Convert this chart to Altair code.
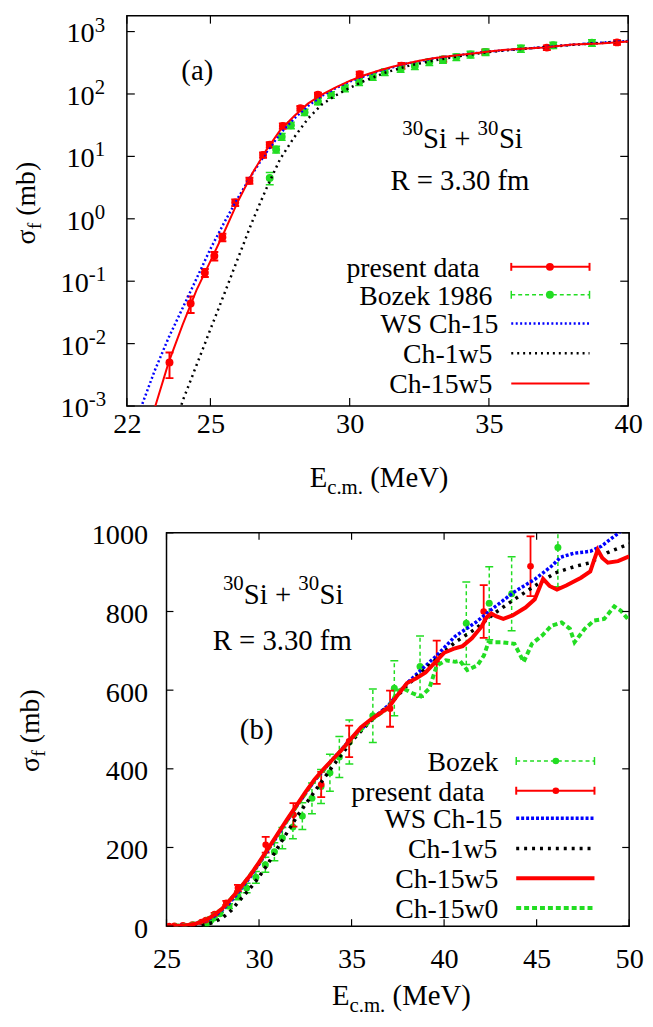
import altair as alt
import pandas as pd

FONT = "Liberation Serif, Times New Roman, Times, serif"
RED = "#ff0000"
GREEN = "#22dd22"
BLUE = "#0000ff"
BLACK = "#000000"

# ---------------- data ----------------
pres_E = [23.53, 24.29, 24.80, 25.14, 25.43, 25.89, 26.40, 26.89, 27.13, 27.60,
          28.23, 28.86, 30.36, 31.86, 33.36, 34.87, 37.08, 39.60, 42.14, 44.67]
pres_sig = [0.005, 0.044, 0.137, 0.254, 0.506, 1.82, 4.08, 10.5, 15.4, 30.8,
            59.0, 97.0, 207, 283, 360, 470, 553, 671, 800, 915]
pres_err = [0.0022, 0.013, 0.02, 0.04, 0.07, 0.22, 0.45, 1.0, 1.5, 3.0,
            5.0, 8.0, 20, 30, 32, 40, 46, 55, 67, 76]

bozek_E = [27.13, 27.36, 27.56, 27.89, 28.38, 28.86, 29.33, 29.83, 30.34, 30.83,
           31.26, 31.83, 32.34, 32.86, 33.35, 33.83, 34.34, 34.88, 36.15, 37.31,
           38.70, 41.20, 42.44, 43.65, 46.15]
bozek_sig = [4.5, 12.9, 20.7, 31.6, 51, 76, 97, 124, 156, 189,
             224, 252, 280, 325, 355, 390, 430, 468, 535, 605,
             660, 770, 821, 845, 963]
bozek_err = [1.0, 1.6, 2.5, 3.8, 6, 9, 12, 15, 19, 23,
             27, 30, 34, 39, 43, 47, 52, 56, 68, 70,
             78, 105, 93, 94, 100]

ws15_E = [22.5, 23.0, 23.5, 24.0, 24.5, 25.0, 25.5, 26.0, 26.5, 27.0, 27.5, 28.0,
          28.5, 29.0, 29.5, 30.0, 31.0, 32.0, 33.0, 34.0, 35.0, 36.0, 37.0, 38.0,
          39.0, 39.6, 40.6, 41.7, 42.8, 43.8, 44.9, 45.8, 46.3, 47.0, 47.9, 48.5,
          49.3, 50.0]
ws15_sig = [0.00093, 0.0037, 0.0125, 0.037, 0.11, 0.33, 0.88, 2.2, 5.2, 11.5, 23, 40,
            64, 93, 124, 158, 230, 303, 370, 425, 478, 522, 562, 618,
            662, 688, 737, 772, 814, 850, 882, 915, 938, 948, 953, 966,
            995, 1022]

ch1w5_E = [23.9, 24.0, 24.5, 25.0, 25.5, 26.0, 26.5, 27.0, 27.5, 28.0, 28.5, 29.0,
           29.5, 30.0, 30.5, 31.25, 32.14, 33.03, 33.92, 35.0, 36.0, 37.0, 38.0,
           39.0, 39.6, 40.6, 41.7, 42.8, 43.8, 44.9, 46.0, 47.1, 47.9, 48.8, 50.0]
ch1w5_sig = [0.00085, 0.0012, 0.0045, 0.017, 0.063, 0.24, 0.9, 3.0, 9.0, 20, 40, 68,
             95, 125, 160, 218, 285, 344, 403, 470, 520, 560, 612,
             655, 680, 722, 756, 798, 831, 865, 898, 915, 924, 949, 972]

ch15w5_E = [23.0, 23.5, 24.0, 24.5, 25.0, 25.5, 26.0, 26.5, 27.0, 27.5, 28.0, 28.5,
            29.0, 29.5, 30.0, 30.5, 31.0, 31.5, 32.0, 32.5, 33.0, 33.5, 34.0, 34.5,
            35.0, 35.5, 36.0, 36.5, 37.0, 37.4, 38.0, 38.5, 39.0, 39.5, 40.0, 40.5,
            41.0, 41.5, 42.0, 42.3, 42.55, 42.8, 43.2, 43.7, 44.4, 44.9, 45.15, 45.35,
            45.7, 46.1, 46.6, 47.4, 47.9, 48.1, 48.3, 48.55, 48.85, 49.4, 50.0]
ch15w5_sig = [0.00093, 0.0050, 0.020, 0.072, 0.21, 0.62, 1.95, 5.3, 12.5, 26, 44, 70,
              98, 128, 162, 198, 234, 270, 305, 340, 373, 400, 425, 450,
              478, 505, 524, 540, 556, 582, 618, 630, 645, 670, 695, 705,
              712, 732, 760, 785, 795, 788, 781, 790, 810, 831, 860, 883,
              865, 856, 866, 886, 902, 930, 957, 936, 924, 928, 940]

ch15w0_E = [25.0, 26.0, 27.0, 28.0, 29.0, 30.0, 31.0, 32.0, 33.0, 34.0, 35.0, 36.0,
            37.0, 37.5, 37.8, 38.3, 38.75, 39.2, 39.6, 40.1, 40.6, 40.85, 41.25, 41.8,
            42.15, 42.4, 43.1, 43.8, 44.3, 44.75, 45.3, 45.8, 46.35, 46.8, 47.05, 47.6,
            48.1, 48.65, 49.2, 49.55, 50.0]
ch15w0_sig = [0.2, 1.9, 12, 43, 97, 160, 232, 303, 371, 424, 476, 522,
              556, 598, 604, 592, 584, 604, 662, 676, 672, 675, 651, 663,
              688, 722, 722, 718, 672, 718, 739, 764, 772, 756, 722, 756,
              777, 781, 813, 802, 777]

xticks_a = [22, 25, 30, 35, 40]
yticks_a = [1e-3, 1e-2, 1e-1, 1, 10, 100, 1000]
ylabel_base_a = ["10", "10", "10", "10", "10", "10", "10"]
ylabel_exp_a = ["-3", "-2", "-1", "0", "1", "2", "3"]
xticks_b = [25, 30, 35, 40, 45, 50]
yticks_b = [0, 200, 400, 600, 800, 1000]

legend_a = ["present data", "Bozek 1986", "WS Ch-15", "Ch-1w5", "Ch-15w5"]
legend_b = ["Bozek", "present data", "WS Ch-15", "Ch-1w5", "Ch-15w5", "Ch-15w0"]

# ---------------- tables ----------------
def err_table(E, s, e):
    return pd.DataFrame({"E": E, "sig": s,
                         "lo": [a - b for a, b in zip(s, e)],
                         "hi": [a + b for a, b in zip(s, e)]})

def curve(E, s):
    return pd.DataFrame({"E": E, "sig": s})

pres_df = err_table(pres_E, pres_sig, pres_err)
bozek_df = err_table(bozek_E, bozek_sig, bozek_err)
ws_df = curve(ws15_E, ws15_sig)
c1_df = curve(ch1w5_E, ch1w5_sig)
c15_df = curve(ch15w5_E, ch15w5_sig)
c0_df = curve(ch15w0_E, ch15w0_sig)

ONE = pd.DataFrame({"k": [0]})

# ---------------- helpers ----------------
def txt(s, x, y, size=28, align="left", angle=None):
    kw = dict(text=s, font=FONT, fontSize=size, align=align,
              baseline="alphabetic", color="black")
    if angle is not None:
        kw["angle"] = angle
    return alt.Chart(ONE).mark_text(**kw).encode(x=alt.value(x), y=alt.value(y))

def hline(x0, x1, y, color, width, dash=None):
    kw = dict(color=color, strokeWidth=width)
    if dash:
        kw["strokeDash"] = dash
    return alt.Chart(ONE).mark_rule(**kw).encode(
        x=alt.value(x0), x2=alt.value(x1), y=alt.value(y))

def vline(x, y0, y1, color, width):
    return alt.Chart(ONE).mark_rule(color=color, strokeWidth=width).encode(
        x=alt.value(x), y=alt.value(y0), y2=alt.value(y1))

def dot(x, y, color, size):
    return alt.Chart(ONE).mark_circle(color=color, size=size, opacity=1).encode(
        x=alt.value(x), y=alt.value(y))

def errorbars(df, X, Y, color, width, cap, dash=None):
    rk = dict(color=color, strokeWidth=width, clip=True)
    if dash:
        rk["strokeDash"] = dash
    bars = alt.Chart(df).mark_rule(**rk).encode(x=X, y=Y("lo"), y2=alt.Y2("hi"))
    tk = dict(color=color, orient="horizontal", size=cap, thickness=width,
              opacity=1, clip=True)
    lo = alt.Chart(df).mark_tick(**tk).encode(x=X, y=Y("lo"))
    hi = alt.Chart(df).mark_tick(**tk).encode(x=X, y=Y("hi"))
    return [bars, lo, hi]

def points(df, X, Y, color, size):
    return alt.Chart(df).mark_circle(color=color, size=size, opacity=1,
                                     clip=True).encode(x=X, y=Y())

def line(df, X, Y, color, width, dash=None):
    kw = dict(color=color, strokeWidth=width, clip=True)
    if dash:
        kw["strokeDash"] = dash
    return alt.Chart(df).mark_line(**kw).encode(x=X, y=Y())

def inward_ticks(xvals, yvals, X, Y, W, H, L=8):
    xdf = pd.DataFrame({"E": xvals})
    ydf = pd.DataFrame({"sig": yvals})
    rk = dict(color="black", strokeWidth=1.2)
    return [
        alt.Chart(xdf).mark_rule(**rk).encode(x=X, y=alt.value(H), y2=alt.value(H - L)),
        alt.Chart(xdf).mark_rule(**rk).encode(x=X, y=alt.value(0), y2=alt.value(L)),
        alt.Chart(ydf).mark_rule(**rk).encode(y=Y(), x=alt.value(0), x2=alt.value(L)),
        alt.Chart(ydf).mark_rule(**rk).encode(y=Y(), x=alt.value(W - L), x2=alt.value(W)),
    ]

def x_title(x, y):
    return [txt("E", x, y, size=29), txt("c.m.", x + 17.7, y + 7, size=21),
            txt("(MeV)", x + 61.2, y, size=29)]

def y_title(xb, center):
    start = center + 42
    return [txt("σ", xb, start, size=28, angle=270),
            txt("f", xb + 6, start - 15.4, size=20, angle=270),
            txt("(mb)", xb, start - 15.4 - 6.7 - 7, size=28, angle=270)]

def sisi(x, yb):
    return [txt("30", x, yb - 14, size=21), txt("Si +", x + 21, yb, size=29),
            txt("30", x + 76, yb - 14, size=21), txt("Si", x + 97.5, yb, size=29)]

# ---------------- panel (a) ----------------
WA, HA = 506, 394
sxA = alt.Scale(domain=[22, 40], nice=False, zero=False)
syA = alt.Scale(type="log", domain=[1e-3, 10 ** 3.254], nice=False)
axA = alt.Axis(values=xticks_a, title=None, ticks=False, domain=False, grid=False,
               labelFont=FONT, labelFontSize=28.5, labelColor="black",
               labelPadding=4, labelFlush=False)
XA = alt.X("E:Q", scale=sxA, axis=axA)

def YA(f="sig"):
    return alt.Y(f"{f}:Q", scale=syA, axis=None)

layers_a = []
layers_a += errorbars(pres_df, XA, YA, RED, 2, 8)
layers_a.append(points(pres_df, XA, YA, RED, 64))
layers_a += errorbars(bozek_df, XA, YA, GREEN, 1.5, 8, dash=[4, 3])
layers_a.append(points(bozek_df, XA, YA, GREEN, 64))
layers_a.append(line(ws_df, XA, YA, BLUE, 2.5, dash=[2, 2.5]))
layers_a.append(line(c1_df, XA, YA, BLACK, 2.5, dash=[2, 4]))
layers_a.append(line(c15_df, XA, YA, RED, 2))
layers_a += inward_ticks(xticks_a, yticks_a, XA, YA, WA, HA)

ylab = pd.DataFrame({"sig": yticks_a, "base": ylabel_base_a, "exp": ylabel_exp_a})
for sub, xo in [(ylab[ylab["sig"] < 1], -38.5), (ylab[ylab["sig"] >= 1], -32.5)]:
    layers_a.append(alt.Chart(sub).mark_text(
        font=FONT, fontSize=28.5, align="right", baseline="alphabetic", dy=11,
        color="black").encode(x=alt.value(xo), y=YA(), text="base:N"))
    layers_a.append(alt.Chart(sub).mark_text(
        font=FONT, fontSize=21, align="left", baseline="alphabetic", dy=0,
        color="black").encode(x=alt.value(xo), y=YA(), text="exp:N"))

layers_a += x_title(184.5, 476)
layers_a += y_title(-92.5, 189)
layers_a.append(txt("(a)", 55, 65, size=29))
layers_a += sisi(278, 134)
layers_a.append(txt("R = 3.30 fm", 266, 176, size=29))

rows_a = [253.5, 281.7, 310.7, 340.7, 371.3]
right_a = [356, 369, 375, 369, 369]
x0a, x1a, xma = 388, 467, 427
for lab, y, xr in zip(legend_a, rows_a, right_a):
    layers_a.append(txt(lab, xr, y + 10, align="right"))
y = rows_a[0]
layers_a += [hline(x0a, x1a, y, RED, 2), vline(x0a, y - 4, y + 4, RED, 2),
             vline(x1a, y - 4, y + 4, RED, 2), dot(xma, y, RED, 64)]
y = rows_a[1]
layers_a += [hline(x0a, x1a, y, GREEN, 1.5, [4, 3]), vline(x0a, y - 4, y + 4, GREEN, 1.5),
             vline(x1a, y - 4, y + 4, GREEN, 1.5), dot(xma, y, GREEN, 64)]
layers_a.append(hline(x0a, x1a, rows_a[2], BLUE, 2.5, [2, 2.5]))
layers_a.append(hline(x0a, x1a, rows_a[3], BLACK, 2.5, [2, 4]))
layers_a.append(hline(x0a, x1a, rows_a[4], RED, 2))

chart_a = alt.layer(*layers_a).properties(width=WA, height=HA)

# ---------------- panel (b) ----------------
WB, HB = 467, 397
sxB = alt.Scale(domain=[25, 50], nice=False, zero=False)
syB = alt.Scale(domain=[0, 1000], nice=False, zero=False)
axXB = alt.Axis(values=xticks_b, title=None, ticks=False, domain=False, grid=False,
                labelFont=FONT, labelFontSize=28.5, labelColor="black",
                labelPadding=19, labelFlush=False)
axYB = alt.Axis(values=yticks_b, title=None, ticks=False, domain=False, grid=False,
                labelFont=FONT, labelFontSize=28.5, labelColor="black", format="d",
                labelPadding=19, labelFlush=False, labelOffset=2)
XB = alt.X("E:Q", scale=sxB, axis=axXB)

def YB(f="sig"):
    return alt.Y(f"{f}:Q", scale=syB, axis=axYB)

layers_b = []
layers_b += errorbars(bozek_df, XB, YB, GREEN, 1.5, 8, dash=[4, 3])
layers_b.append(points(bozek_df, XB, YB, GREEN, 50))
layers_b += errorbars(pres_df, XB, YB, RED, 1.8, 8)
layers_b.append(points(pres_df, XB, YB, RED, 45))
layers_b.append(line(ws_df, XB, YB, BLUE, 3.5, dash=[3, 2]))
layers_b.append(line(c1_df, XB, YB, BLACK, 3.5, dash=[3, 5]))
layers_b.append(line(c0_df, XB, YB, GREEN, 4, dash=[5, 3]))
layers_b.append(line(c15_df, XB, YB, RED, 4))
layers_b += inward_ticks(xticks_b, yticks_b, XB, YB, WB, HB, L=7)

layers_b += x_title(167, 477)
layers_b += y_title(-129, 199.5)
layers_b.append(txt("(b)", 74, 208, size=29))
layers_b += sisi(57, 72)
layers_b.append(txt("R = 3.30 fm", 46.6, 118.7, size=29))

rows_b = [230.3, 260.3, 288, 318.7, 348.7, 378.7]
right_b = [335, 321, 339, 334, 335, 335]
x0b, x1b, xmb = 353, 432, 393
for lab, y, xr in zip(legend_b, rows_b, right_b):
    layers_b.append(txt(lab, xr, y + 10, align="right"))
y = rows_b[0]
layers_b += [hline(x0b, x1b, y, GREEN, 1.5, [4, 3]), vline(x0b, y - 4, y + 4, GREEN, 1.5),
             vline(x1b, y - 4, y + 4, GREEN, 1.5), dot(xmb, y, GREEN, 45)]
y = rows_b[1]
layers_b += [hline(x0b, x1b, y, RED, 2), vline(x0b, y - 4, y + 4, RED, 2),
             vline(x1b, y - 4, y + 4, RED, 2), dot(xmb, y, RED, 45)]
layers_b.append(hline(x0b, x1b, rows_b[2], BLUE, 3.5, [3, 2]))
layers_b.append(hline(x0b, x1b, rows_b[3], BLACK, 3.5, [3, 5]))
layers_b.append(hline(x0b, x1b, rows_b[4], RED, 4))
layers_b.append(hline(x0b, x1b, rows_b[5], GREEN, 4, [5, 3]))

chart_b = alt.layer(*layers_b).properties(width=WB, height=HB)

spacer = alt.Chart(ONE).mark_point(opacity=0).encode(
    x=alt.value(0), y=alt.value(0)).properties(
    width=40, height=10, view=alt.ViewBackground(stroke="transparent"))

bottom = alt.hconcat(spacer, chart_b, spacing=0, bounds="flush")
chart = alt.vconcat(chart_a, bottom, spacing=128, bounds="flush").properties(
    autosize=alt.AutoSizeParams(type="none"),
    padding={"left": 120, "top": 3, "right": 523, "bottom": 1013},
).configure_view(stroke="black", strokeWidth=1.5)

chart.save("out.html", embed_options={"renderer": "svg", "actions": False})
